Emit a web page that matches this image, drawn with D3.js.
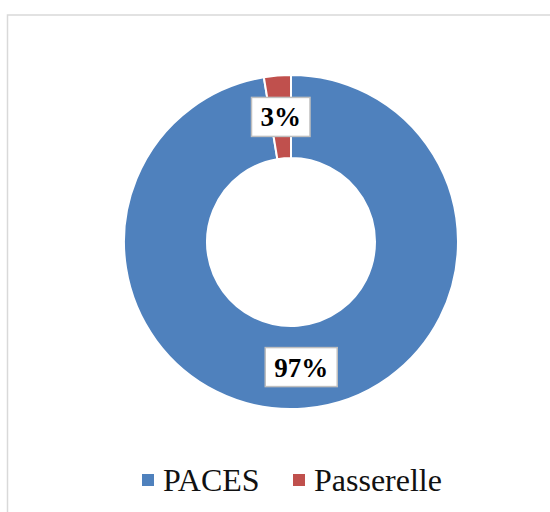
<html><head>
<script src="https://cdn.jsdelivr.net/npm/d3@7"></script>
<style>
  body { margin: 0; background: white; }
</style>
</head>
<body>
<svg width="550" height="512"></svg>
<script>
  // chart data
  let categories = ["PACES", "Passerelle"];
  let values = [97.4, 2.6];
  let colors = ["#4F81BD", "#C0504D"];

  let svg = d3.select("svg");

  // chart area border (extends past right/bottom edges)
  svg.append("rect")
      .attr("x", 7.5).attr("y", 15)
      .attr("width", 560).attr("height", 520)
      .style("fill", "none")
      .style("stroke", "#d9d9d9")
      .style("stroke-width", 1.5);

  let cx = 291, cy = 242;
  let outerR = 167, innerR = 84;

  let pie = d3.pie().sort(null).value(d => d);
  let arcs = pie(values);
  let arc = d3.arc().innerRadius(innerR).outerRadius(outerR);
  let labelArc = d3.arc().innerRadius((innerR + outerR) / 2).outerRadius((innerR + outerR) / 2);

  let g = svg.append("g").attr("transform", "translate(" + cx + "," + cy + ")");

  g.selectAll("path")
      .data(arcs)
      .enter().append("path")
      .attr("d", arc)
      .style("fill", (d, i) => colors[i])
      .style("stroke", "white")
      .style("stroke-width", 2);

  let total = d3.sum(values);

  // data labels with boxes
  arcs.forEach(function(d) {
    let c = labelArc.centroid(d);
    let txt = Math.round(d.data / total * 100) + "%";
    let lg = g.append("g").attr("transform", "translate(" + c[0] + "," + c[1] + ")");
    let t = lg.append("text")
        .attr("text-anchor", "middle")
        .attr("dy", "0.35em")
        .style("font-family", "'Liberation Serif', 'Times New Roman', serif")
        .style("font-weight", "bold")
        .style("font-size", "27px")
        .text(txt);
    let bb = t.node().getBBox();
    lg.insert("rect", "text")
        .attr("x", -bb.width / 2 - 9)
        .attr("y", -19.5)
        .attr("width", bb.width + 18)
        .attr("height", 39)
        .style("fill", "white")
        .style("stroke", "#bfbfbf")
        .style("stroke-width", 1.5);
  });

  // legend
  let legendX = [142, 293];
  let legend = svg.append("g");
  categories.forEach(function(name, i) {
    legend.append("rect")
        .attr("x", legendX[i]).attr("y", 474)
        .attr("width", 12).attr("height", 12)
        .style("fill", colors[i]);
    legend.append("text")
        .attr("x", legendX[i] + 21)
        .attr("y", 491)
        .style("font-family", "'Liberation Serif', 'Times New Roman', serif")
        .style("font-size", "32px")
        .style("fill", "#111")
        .text(name);
  });
</script>
</body>
</html>
